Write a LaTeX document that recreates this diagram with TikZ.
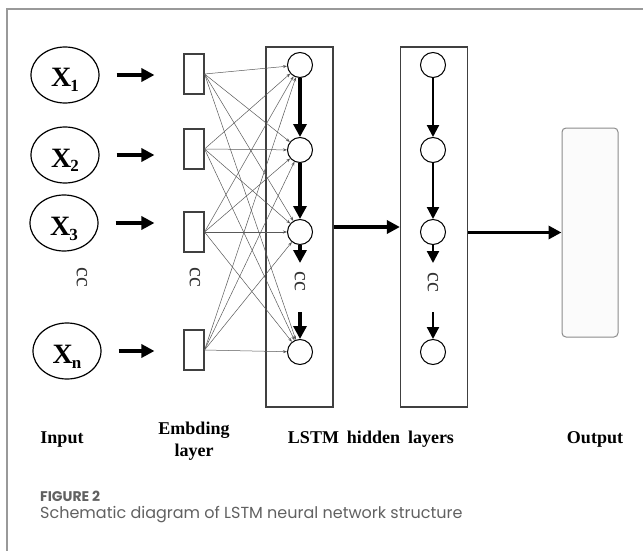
\documentclass[tikz,border=0pt]{standalone}
\usepackage{fontspec}
\setmainfont{Liberation Serif}
\newfontfamily\capfont{Poppins}
\usetikzlibrary{shapes.geometric,arrows.meta}
\def\xlab#1{\fontsize{28}{28}\selectfont\bfseries X\kern-1pt\raisebox{-5pt}{\fontsize{17}{17}\selectfont #1}}
\colorlet{frame edge}{black!40}
\colorlet{box edge}{black!75}
\colorlet{link edge}{black!65}
\colorlet{caption text}{black!62}
\tikzset{input/.style={ellipse, draw, line width=1.2pt, minimum width=68pt, minimum height=56pt, inner sep=0pt, text height=26pt, text depth=2pt},
      embed/.style={draw=box edge, line width=1.1pt, minimum width=20pt, minimum height=40pt, inner sep=0pt},
      layer/.style={draw=box edge, line width=1.2pt, minimum width=67pt, minimum height=360pt, inner sep=0pt},
      cell/.style={circle, draw, line width=1pt, minimum size=25pt, inner sep=0pt},
      bigarrow/.style={line width=3.5pt, -{Triangle[length=13pt,width=13pt]}},
      midarrow/.style={line width=2.2pt, -{Triangle[length=12pt,width=12pt]}},
      link/.style={draw=link edge, line width=0.5pt, -{Stealth[length=4pt,width=3pt]}},
      dots/.style={rotate=-90, font=\fontsize{22}{22}\selectfont, text=black!80, inner sep=0pt},
      lab/.style={font=\fontsize{18}{22}\selectfont\bfseries, anchor=base, align=center, inner sep=0pt},
      caption/.style={anchor=base west, inner sep=0pt, text=caption text}}

\begin{document}
\begin{tikzpicture}[x=1pt,y=-1pt]
\useasboundingbox (0,0) rectangle (643,551);
\draw[frame edge, line width=1.5pt] (7,551) -- (7,9) -- (643,9);

% input words
\node[input] (x1) at (65,75)  {\xlab{1}};
\node[input] (x2) at (65,155) {\xlab{2}};
\node[input] (x3) at (64,223) {\xlab{3}};
\node[input] (xn) at (67,351) {\xlab{n}};

% embedding layer
\foreach \i/\ypos in {1/74,2/149,3/232,4/350}
    \node[embed] (e\i) at (194,\ypos) {};
\foreach \a/\b in {x1/e1,x2/e2,x3/e3,xn/e4}
    \draw[bigarrow] ([xshift=17pt]\a.east) -- ([xshift=-29pt]\b.west |- \a.east);

% LSTM layers
\node[layer] (l1) at (299.5,227) {};
\node[layer] (l2) at (434,227) {};
\foreach \i/\ypos in {1/65,2/150,3/232,4/352} {
    \node[cell] (h\i) at (300,\ypos) {};
    \node[cell] (g\i) at (433,\ypos) {};
}
\foreach \i in {1,...,4}
    \foreach \j in {1,...,4}
        \draw[link] (e\i.east) -- (h\j);

\coordinate (h3b) at (300,263);
\coordinate (h4t) at (300,312);
\coordinate (g3b) at (433,263);
\coordinate (g4t) at (433,312);
\draw[bigarrow] (h1) -- (h2);
\draw[bigarrow] (h2) -- (h3);
\draw[bigarrow] (h3) -- (h3b);
\draw[bigarrow] (h4t) -- (h4);
\draw[midarrow] (g1) -- (g2);
\draw[midarrow] (g2) -- (g3);
\draw[midarrow] (g3) -- (g3b);
\draw[midarrow] (g4t) -- (g4);

\node[dots] (d1) at (82,277)  {cc};
\node[dots] (d2) at (195,277) {cc};
\node[dots] (d3) at (300,281) {cc};
\node[dots] (d4) at (433,282) {cc};

% output
\node[draw=black!45, rounded corners=4pt, line width=1pt, fill=black!1.5, minimum width=56pt, minimum height=209pt, inner sep=0pt] (out) at (590,232.5) {};
\draw[bigarrow] (l1.east) -- (l2.west);
\draw[bigarrow] (l2.east |- out.west) -- (out.west);

\node[lab] (tin)   at (62,443)  {Input};
\node[lab] (temb)  at (194,456) {Embding\\layer};
\node[lab] (tlstm) at (371,443) {LSTM\hspace{3.5pt} hidden\hspace{3.5pt} layers};
\node[lab] (tout)  at (595,443) {Output};

\node[caption, font=\capfont\fontsize{14}{14}\selectfont\bfseries] (fig) at (40,501) {FIGURE 2};
\node[caption, font=\capfont\fontsize{16}{16}\selectfont] (cap) at (40,518) {Schematic diagram of LSTM neural network structure};
\end{tikzpicture}
\end{document}
